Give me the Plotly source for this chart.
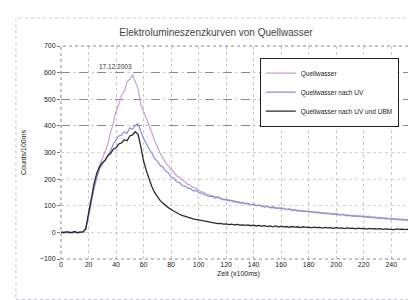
import plotly.graph_objects as go

# sample times (x100ms), every 2 units
zeit = list(range(0, 260, 2))

quellwasser = [3, -2, 4, 1, -3, 2, 0, 3, -1,
    15, 65, 125, 175, 215, 250, 275, 305, 330, 375, 410, 455, 480, 515, 530, 565, 575, 592,
    565, 540, 480, 455, 425, 400, 375, 345, 318, 298, 280, 262, 250, 236, 228, 212, 208, 196,
    192, 180, 178, 168, 166, 158, 152, 150, 143, 140, 138, 132, 135, 127, 126, 121, 124, 117,
    119, 112, 114, 108, 111, 106, 104, 107, 101, 103, 98, 100, 96, 94, 97, 92, 90, 93, 88, 86,
    89, 84, 86, 82, 80, 83, 78, 80, 77, 75, 78, 73, 74, 71, 73, 69, 70, 72, 67, 68, 65, 67, 63,
    65, 62, 64, 60, 61, 59, 61, 57, 58, 55, 57, 53, 55, 52, 54, 50, 52, 49, 51, 47, 49, 46, 48, 45]

nach_uv = [-1, 2, 0, -3, 1, 3, -2, 1, 0,
    12, 62, 118, 165, 205, 238, 255, 272, 292, 305, 332, 345, 362, 365, 378, 372, 392, 388,
    402, 408, 380, 352, 335, 312, 298, 278, 268, 252, 246, 230, 224, 208, 204, 190, 188, 176,
    174, 166, 165, 156, 158, 150, 147, 143, 140, 134, 136, 129, 131, 125, 122, 124, 118, 120,
    114, 116, 110, 112, 107, 109, 103, 105, 100, 102, 97, 95, 98, 92, 94, 90, 92, 88, 90, 85,
    87, 83, 84, 80, 82, 78, 80, 76, 78, 74, 73, 75, 71, 72, 69, 71, 67, 69, 65, 67, 64, 62, 64,
    60, 62, 59, 61, 57, 58, 55, 57, 54, 55, 52, 54, 50, 52, 49, 51, 47, 49, 46, 48, 45, 46, 43, 45]

nach_uv_ubm = [1, -2, 2, 0, -1, 3, -2, 1, 2,
    14, 70, 132, 182, 222, 246, 262, 270, 288, 296, 312, 318, 332, 336, 348, 344, 362, 366,
    378, 368, 322, 268, 232, 198, 172, 150, 134, 120, 110, 100, 93, 86, 79, 73, 68, 64,
    60, 57, 54, 51, 49, 47, 44, 42, 41, 38, 37, 35, 33, 34, 31, 32, 29, 31,
    28, 30, 27, 28, 26, 28, 25, 27, 24, 26, 23, 25, 22, 24, 21, 24, 20, 23, 21, 22,
    19, 22, 20, 21, 18, 21, 19, 20, 17, 20, 18, 19, 16, 19, 17, 18, 15, 18, 16, 17, 14, 17, 15,
    16, 13, 16, 14, 15, 12, 15, 13, 14, 12, 14, 11, 13, 12, 13, 10, 13, 11, 12, 10, 12, 10, 11, 10]

names = ["Quellwasser", "Quellwasser nach UV", "Quellwasser nach UV und UBM"]
x_ticks = list(range(0, 260, 20))
y_ticks = list(range(-100, 800, 100))

assert len(quellwasser) == len(zeit) == len(nach_uv) == len(nach_uv_ubm)

font = "Liberation Sans, Arial, sans-serif"
fig = go.Figure()
fig.add_trace(go.Scatter(x=zeit, y=quellwasser, name=names[0], mode="lines",
                         line=dict(color="#c7a3cf", width=1.2)))
fig.add_trace(go.Scatter(x=zeit, y=nach_uv, name=names[1], mode="lines",
                         line=dict(color="#8e8ed6", width=1.2)))
fig.add_trace(go.Scatter(x=zeit, y=nach_uv_ubm, name=names[2], mode="lines",
                         line=dict(color="#2a2a2a", width=1.3)))
# helper overlay axis for the stronger upper grid lines
fig.add_trace(go.Scatter(x=[None], y=[None], yaxis="y2", showlegend=False, hoverinfo="skip"))

fig.update_layout(
    width=416, height=300,
    margin=dict(l=53, r=8, t=38, b=49),
    paper_bgcolor="white", plot_bgcolor="white",
    font=dict(family=font, size=7, color="#222"),
    title=dict(text="Elektrolumineszenzkurven von Quellwasser", x=0.5, xanchor="center",
               y=0.92, yanchor="middle", yref="container",
               font=dict(size=10, color="#444")),
    xaxis=dict(range=[0, 258], tickvals=x_ticks, showgrid=True, gridcolor="#c8c8c8",
               griddash="dot", gridwidth=1, zeroline=False, showline=False,
               ticks="", tickfont=dict(size=7, color="#222"),
               title=dict(text="Zeit (x100ms)", font=dict(size=7, color="#222"), standoff=4)),
    yaxis=dict(range=[-100, 700], tickvals=y_ticks, showgrid=True, gridcolor="#d0d0d0",
               griddash="dot", zeroline=False, showline=False, ticks="outside",
               ticklen=3, tickcolor="#777", tickfont=dict(size=7, color="#222"),
               title=dict(text="Counts/100ms", font=dict(size=7, color="#222"), standoff=12)),
    yaxis2=dict(range=[-100, 700], overlaying="y", tickvals=[400, 500, 600], showgrid=True,
                gridcolor="#8a8a8a", griddash="dash", gridwidth=1, showticklabels=False,
                zeroline=False, showline=False),
    legend=dict(x=0.56, y=0.945, xanchor="left", yanchor="top", bgcolor="white",
                bordercolor="#222", borderwidth=1, font=dict(size=6.5, color="#222"),
                tracegroupgap=0, itemwidth=30),
    showlegend=True,
    shapes=[
        dict(type="rect", xref="paper", yref="paper", x0=0, x1=1, y0=0, y1=1,
             line=dict(color="#888", width=1, dash="dot"), layer="above"),
        dict(type="rect", xref="paper", yref="paper", x0=-0.127, x1=1.006, y0=-0.19, y1=1.131,
             line=dict(color="#bcc4d8", width=1, dash="dot")),
    ],
    annotations=[
        dict(text="17.12.2003", xref="paper", yref="paper", x=0.1, y=0.93,
             showarrow=False, font=dict(size=6.5, color="#333")),
    ],
)

fig.write_html("out.html")
